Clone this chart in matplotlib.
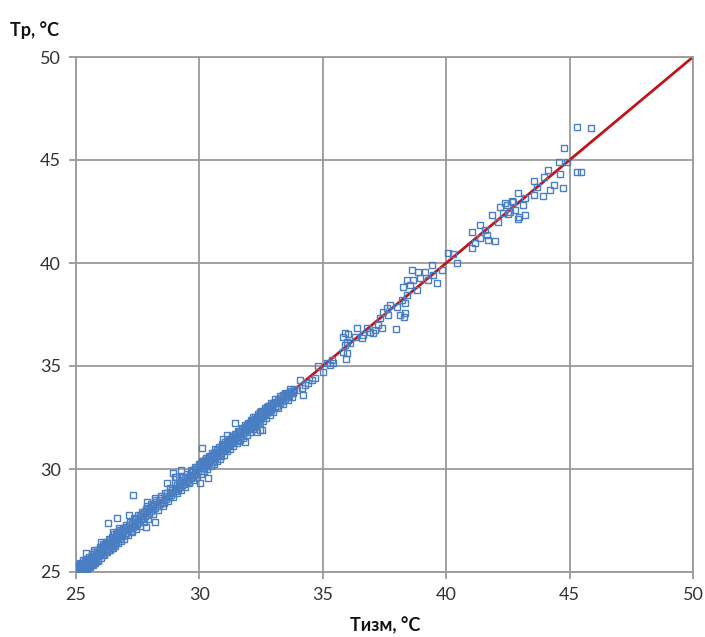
import matplotlib
matplotlib.use("Agg")
import matplotlib.pyplot as plt

dense_pts = [
    (25.03, 25.10), (25.06, 25.22), (25.08, 25.02), (25.10, 25.15), (25.12, 25.30),
    (25.15, 25.08), (25.18, 25.25), (25.20, 25.38), (25.22, 25.12), (25.25, 25.20),
    (25.27, 25.45), (25.30, 25.28), (25.32, 25.10), (25.35, 25.40), (25.37, 25.55),
    (25.40, 25.32), (25.42, 25.20), (25.45, 25.48), (25.48, 25.62), (25.50, 25.38),
    (25.52, 25.28), (25.55, 25.60), (25.58, 25.45), (25.60, 25.70), (25.62, 25.52),
    (25.65, 25.38), (25.68, 25.66), (25.70, 25.80), (25.72, 25.55), (25.75, 25.72),
    (25.78, 25.48), (25.80, 25.88), (25.82, 25.65), (25.85, 25.95), (25.88, 25.78),
    (25.90, 25.60), (25.93, 25.98), (25.96, 25.82), (25.98, 26.10),
    (26.02, 25.90), (26.05, 26.18), (26.08, 26.02), (26.10, 25.85), (26.13, 26.25),
    (26.15, 26.08), (26.18, 26.35), (26.20, 26.12), (26.23, 25.98), (26.26, 26.30),
    (26.28, 26.45), (26.31, 26.20), (26.34, 26.05), (26.36, 26.40), (26.39, 26.55),
    (26.42, 26.30), (26.45, 26.18), (26.48, 26.60), (26.50, 26.42), (26.53, 26.72),
    (26.56, 26.38), (26.58, 26.55), (26.61, 26.80), (26.64, 26.48), (26.67, 26.65),
    (26.70, 26.90), (26.72, 26.58), (26.75, 26.78), (26.78, 26.95), (26.80, 26.62),
    (26.83, 26.85), (26.86, 27.05), (26.88, 26.75), (26.91, 26.92), (26.94, 27.12),
    (26.97, 26.80),
    (27.00, 27.05), (27.04, 26.88), (27.08, 27.20), (27.12, 27.02), (27.16, 27.30),
    (27.20, 27.12), (27.24, 27.00), (27.28, 27.38), (27.32, 27.20), (27.36, 27.45),
    (27.40, 27.28), (27.44, 27.55), (27.48, 27.35), (27.52, 27.60), (27.56, 27.42),
    (27.60, 27.72), (27.64, 27.55), (27.68, 27.80), (27.72, 27.60), (27.76, 27.90),
    (27.80, 27.70), (27.84, 27.95), (27.88, 27.78), (27.92, 28.05), (27.96, 27.88),
    (28.00, 28.10), (28.04, 27.95), (28.08, 28.22), (28.12, 28.05), (28.16, 28.30),
    (28.20, 28.12), (28.25, 28.40), (28.30, 28.20), (28.35, 28.48), (28.40, 28.30),
    (28.45, 28.58), (28.50, 28.42), (28.55, 28.35), (28.60, 28.70), (28.65, 28.55),
    (28.70, 28.82), (28.75, 28.62), (28.80, 28.90), (28.85, 28.75), (28.90, 29.00),
    (28.95, 28.85),
    (29.00, 29.10), (29.04, 28.95), (29.08, 29.22), (29.12, 29.05), (29.16, 29.30),
    (29.20, 29.12), (29.24, 29.38), (29.28, 29.20), (29.32, 29.45), (29.36, 29.28),
    (29.40, 29.55), (29.44, 29.35), (29.48, 29.62), (29.52, 29.45), (29.56, 29.38),
    (29.60, 29.72), (29.64, 29.55), (29.68, 29.85), (29.72, 29.62), (29.76, 29.90),
    (29.80, 29.70), (29.84, 29.98), (29.88, 29.80), (29.92, 30.10), (29.96, 29.90),
    (30.00, 30.05), (30.03, 30.22), (30.06, 29.92), (30.10, 30.15), (30.13, 30.35),
    (30.16, 30.05), (30.20, 30.28), (30.23, 30.42), (30.26, 30.15), (30.30, 30.38),
    (30.33, 30.22), (30.36, 30.50), (30.40, 30.32), (30.43, 30.60), (30.46, 30.42),
    (30.50, 30.68), (30.53, 30.48), (30.56, 30.35), (30.60, 30.72), (30.63, 30.55),
    (30.66, 30.82), (30.70, 30.62), (30.73, 30.90), (30.76, 30.70), (30.80, 30.95),
    (30.83, 30.78), (30.86, 30.65), (30.90, 31.02), (30.93, 30.85), (30.96, 31.10),
    (31.00, 30.92), (31.03, 31.15), (31.06, 31.00), (31.10, 31.25), (31.13, 31.08),
    (31.16, 31.32), (31.20, 31.15), (31.23, 31.40), (31.26, 31.22), (31.30, 31.48),
    (31.33, 31.30), (31.36, 31.55), (31.40, 31.38), (31.43, 31.62), (31.46, 31.45),
    (31.50, 31.70), (31.53, 31.52), (31.56, 31.38), (31.60, 31.78), (31.63, 31.60),
    (31.66, 31.85), (31.70, 31.68), (31.73, 31.92), (31.76, 31.75), (31.80, 31.98),
    (31.83, 31.80), (31.86, 32.05), (31.90, 31.88), (31.93, 32.12), (31.96, 31.95),
    (32.00, 32.18), (32.03, 32.00), (32.06, 32.25), (32.10, 32.08), (32.13, 32.32),
    (32.16, 32.15), (32.20, 32.38), (32.23, 32.22), (32.26, 32.45), (32.30, 32.28),
    (32.33, 32.52), (32.36, 32.35), (32.40, 32.58), (32.43, 32.42), (32.46, 32.65),
    (32.50, 32.48), (32.53, 32.70), (32.56, 32.55), (32.60, 32.78), (32.63, 32.60),
    (32.66, 32.85), (32.70, 32.68), (32.73, 32.90), (32.76, 32.75), (32.80, 32.98),
    (32.83, 32.80), (32.86, 33.05), (32.90, 32.88), (32.93, 33.10), (32.96, 32.95),
    (33.00, 33.15), (33.05, 33.02), (33.10, 33.25), (33.15, 33.08), (33.20, 33.35),
    (33.25, 33.18), (33.30, 33.45), (33.35, 33.28), (33.40, 33.55), (33.45, 33.38),
    (33.50, 33.62), (33.55, 33.48), (33.60, 33.70), (33.65, 33.55), (33.70, 33.78),
    (33.78, 33.70), (33.85, 33.88),
]

dense_pts_b = [
    (25.04, 25.35), (25.11, 25.00), (25.16, 25.45), (25.23, 25.02), (25.29, 25.58),
    (25.34, 25.12), (25.41, 25.65), (25.46, 25.15), (25.53, 25.75), (25.57, 25.25),
    (25.63, 25.85), (25.69, 25.35), (25.74, 25.95), (25.79, 25.42), (25.86, 26.05),
    (25.91, 25.52), (25.97, 26.20),
    (26.03, 25.70), (26.09, 26.35), (26.14, 25.82), (26.21, 26.45), (26.27, 25.95),
    (26.33, 26.58), (26.38, 26.08), (26.44, 26.70), (26.49, 26.15), (26.55, 26.85),
    (26.60, 26.25), (26.66, 26.92), (26.71, 26.40), (26.77, 27.05), (26.82, 26.50),
    (26.89, 27.15), (26.95, 26.62),
    (27.02, 27.30), (27.10, 26.80), (27.18, 27.45), (27.26, 26.95), (27.34, 27.60),
    (27.42, 27.10), (27.50, 27.75), (27.58, 27.25), (27.66, 27.92), (27.74, 27.42),
    (27.82, 28.05), (27.90, 27.55),
    (28.02, 28.28), (28.10, 27.80), (28.22, 28.50), (28.33, 28.00), (28.43, 28.70),
    (28.52, 28.20), (28.62, 28.85), (28.72, 28.45), (28.82, 29.08), (28.92, 28.62),
    (29.02, 29.30), (29.10, 28.82), (29.18, 29.45), (29.26, 29.00), (29.34, 29.62),
    (29.42, 29.15), (29.50, 29.78), (29.58, 29.30), (29.66, 29.95), (29.74, 29.45),
    (29.82, 30.12), (29.90, 29.60), (29.98, 30.25),
    (30.05, 29.75), (30.11, 30.40), (30.18, 29.88), (30.25, 30.52), (30.31, 30.02),
    (30.38, 30.65), (30.45, 30.15), (30.51, 30.80), (30.58, 30.25), (30.65, 30.95),
    (30.71, 30.38), (30.78, 31.08), (30.85, 30.50), (30.91, 31.20), (30.98, 30.70),
    (31.05, 31.32), (31.11, 30.85), (31.18, 31.45), (31.25, 30.98), (31.31, 31.58),
    (31.38, 31.12), (31.45, 31.72), (31.51, 31.25), (31.58, 31.85), (31.65, 31.40),
    (31.71, 31.98), (31.78, 31.52), (31.85, 32.12), (31.91, 31.65), (31.98, 32.25),
    (32.05, 31.80), (32.11, 32.40), (32.18, 31.95), (32.25, 32.52), (32.31, 32.08),
    (32.38, 32.68), (32.45, 32.22), (32.51, 32.82), (32.58, 32.35), (32.65, 32.95),
    (32.71, 32.50), (32.78, 33.08), (32.85, 32.62), (32.91, 33.20), (32.98, 32.78),
    (33.08, 33.38), (33.18, 32.95), (33.28, 33.52), (33.38, 33.15), (33.48, 33.70),
    (33.58, 33.35), (33.68, 33.90), (33.75, 33.50),
]

sparse_pts = [
    (34.68, 34.40), (34.55, 34.32), (34.41, 34.16), (34.28, 34.08), (34.14, 33.92),
    (33.94, 33.84), (33.80, 33.75), (34.21, 33.59), (33.67, 33.67), (34.08, 34.32),
    (33.40, 33.59), (33.27, 33.35), (32.99, 33.19), (32.73, 33.02), (32.46, 32.78),
    (32.18, 32.54), (32.12, 32.05), (32.39, 32.22), (32.52, 31.89), (32.32, 31.81),
    (35.02, 34.72), (34.82, 35.00), (35.36, 35.29), (35.43, 35.13), (35.29, 35.05),
    (35.16, 35.16), (35.94, 35.32), (35.97, 35.62), (35.83, 35.70), (35.97, 36.18),
    (35.90, 36.02), (36.10, 36.10), (35.90, 36.59), (36.03, 36.54), (35.83, 36.42),
    (36.37, 36.83), (36.30, 36.42), (36.57, 36.34), (36.64, 36.50), (37.25, 36.99),
    (37.39, 36.83), (37.05, 36.59), (37.12, 36.75), (36.91, 36.67), (36.78, 36.83),
    (37.97, 36.78), (37.45, 37.64), (37.66, 37.48), (37.32, 37.32), (38.13, 37.48),
    (38.33, 37.56), (38.27, 37.40), (37.72, 37.96), (37.99, 37.88), (37.59, 37.80),
    (38.33, 38.04), (38.19, 38.20), (38.40, 38.45), (38.80, 38.69), (38.26, 38.85),
    (38.53, 38.93), (38.40, 39.17), (38.67, 39.17), (38.94, 39.26), (39.28, 39.17),
    (39.61, 39.01), (39.48, 39.42), (38.60, 39.66), (38.87, 39.58), (39.14, 39.58),
    (39.82, 39.66), (39.41, 39.90), (40.43, 39.98), (40.09, 40.47), (40.29, 40.42),
    (41.03, 40.71), (41.17, 40.96), (41.37, 41.20), (41.64, 41.36), (41.71, 41.12),
    (41.98, 41.08), (41.03, 41.52), (41.57, 41.60), (41.37, 41.84), (42.11, 42.00),
    (41.84, 42.33), (42.31, 42.41), (42.59, 42.49), (42.92, 42.12), (43.19, 42.33),
    (42.18, 42.73), (42.45, 42.82), (42.72, 42.98), (43.12, 42.82), (42.92, 43.42),
    (42.65, 43.03), (42.38, 42.90), (42.79, 42.57), (42.52, 42.38), (42.96, 42.22),
    (43.19, 43.14), (43.54, 43.30), (43.93, 43.25), (43.57, 43.98), (43.67, 43.67),
    (43.96, 44.19), (44.37, 43.79), (44.72, 43.63), (44.21, 43.54), (44.14, 44.51),
    (44.61, 44.31), (44.58, 44.89), (44.88, 44.92), (44.77, 45.57), (45.31, 46.62),
    (45.87, 46.54), (45.30, 44.40), (45.45, 44.40),
]

outlier_pts = [
    (27.32, 28.74), (27.86, 28.41), (28.21, 28.58), (27.86, 28.20), (27.16, 27.77),
    (26.31, 27.39), (26.65, 27.61), (26.75, 27.12), (26.49, 26.96), (26.01, 26.47),
    (25.74, 26.07), (25.41, 25.91), (28.67, 29.33), (29.05, 29.63), (28.92, 29.79),
    (28.21, 27.44), (27.84, 27.20), (31.44, 32.25), (31.11, 31.65), (30.97, 31.44),
    (30.09, 31.00), (29.24, 29.95), (29.01, 29.63), (31.85, 31.33), (32.46, 31.89),
    (30.36, 29.55), (30.02, 29.31),
]

line_x = [25, 50]
line_y = [25, 50]

x_ticks = [25, 30, 35, 40, 45, 50]
y_ticks = [25, 30, 35, 40, 45, 50]
x_label = "Тизм, °С"
y_label = "Тр, °С"

plt.rcParams['font.family'] = ['Lato', 'DejaVu Sans']

fig = plt.figure(figsize=(7.05, 6.37), dpi=100)
ax = fig.add_axes([76 / 705, 1 - 572 / 637, (693 - 76) / 705, (572 - 57) / 637])

pts = dense_pts + dense_pts_b + sparse_pts + outlier_pts
xs = [p[0] for p in pts]
ys = [p[1] for p in pts]

ax.plot(line_x, line_y, color='#C0151B', lw=2.0, zorder=2)
ax.plot(xs, ys, linestyle='none', marker='s', ms=3.9, mfc='none',
        mec='#4A7EC2', mew=1.0, zorder=3)

ax.set_xlim(25, 50)
ax.set_ylim(25, 50)
ax.set_xticks(x_ticks)
ax.set_yticks(y_ticks)
ax.grid(True, color='#9a9a9a', lw=1.3, zorder=1)
ax.set_axisbelow(True)
for s in ax.spines.values():
    s.set_color('#9a9a9a')
    s.set_linewidth(1.3)
ax.tick_params(axis='both', direction='out', length=5, width=1.3, color='#9a9a9a',
               labelsize=13, labelcolor='#333333', pad=6)

fig.text(10 / 705, 1 - 30 / 637, y_label, fontsize=13, fontweight='bold',
         ha='left', va='center', color='#111111')
fig.text(385 / 705, 1 - 625 / 637, x_label, fontsize=13, fontweight='bold',
         ha='center', va='center', color='#111111')

fig.savefig('out.png', dpi=100)
